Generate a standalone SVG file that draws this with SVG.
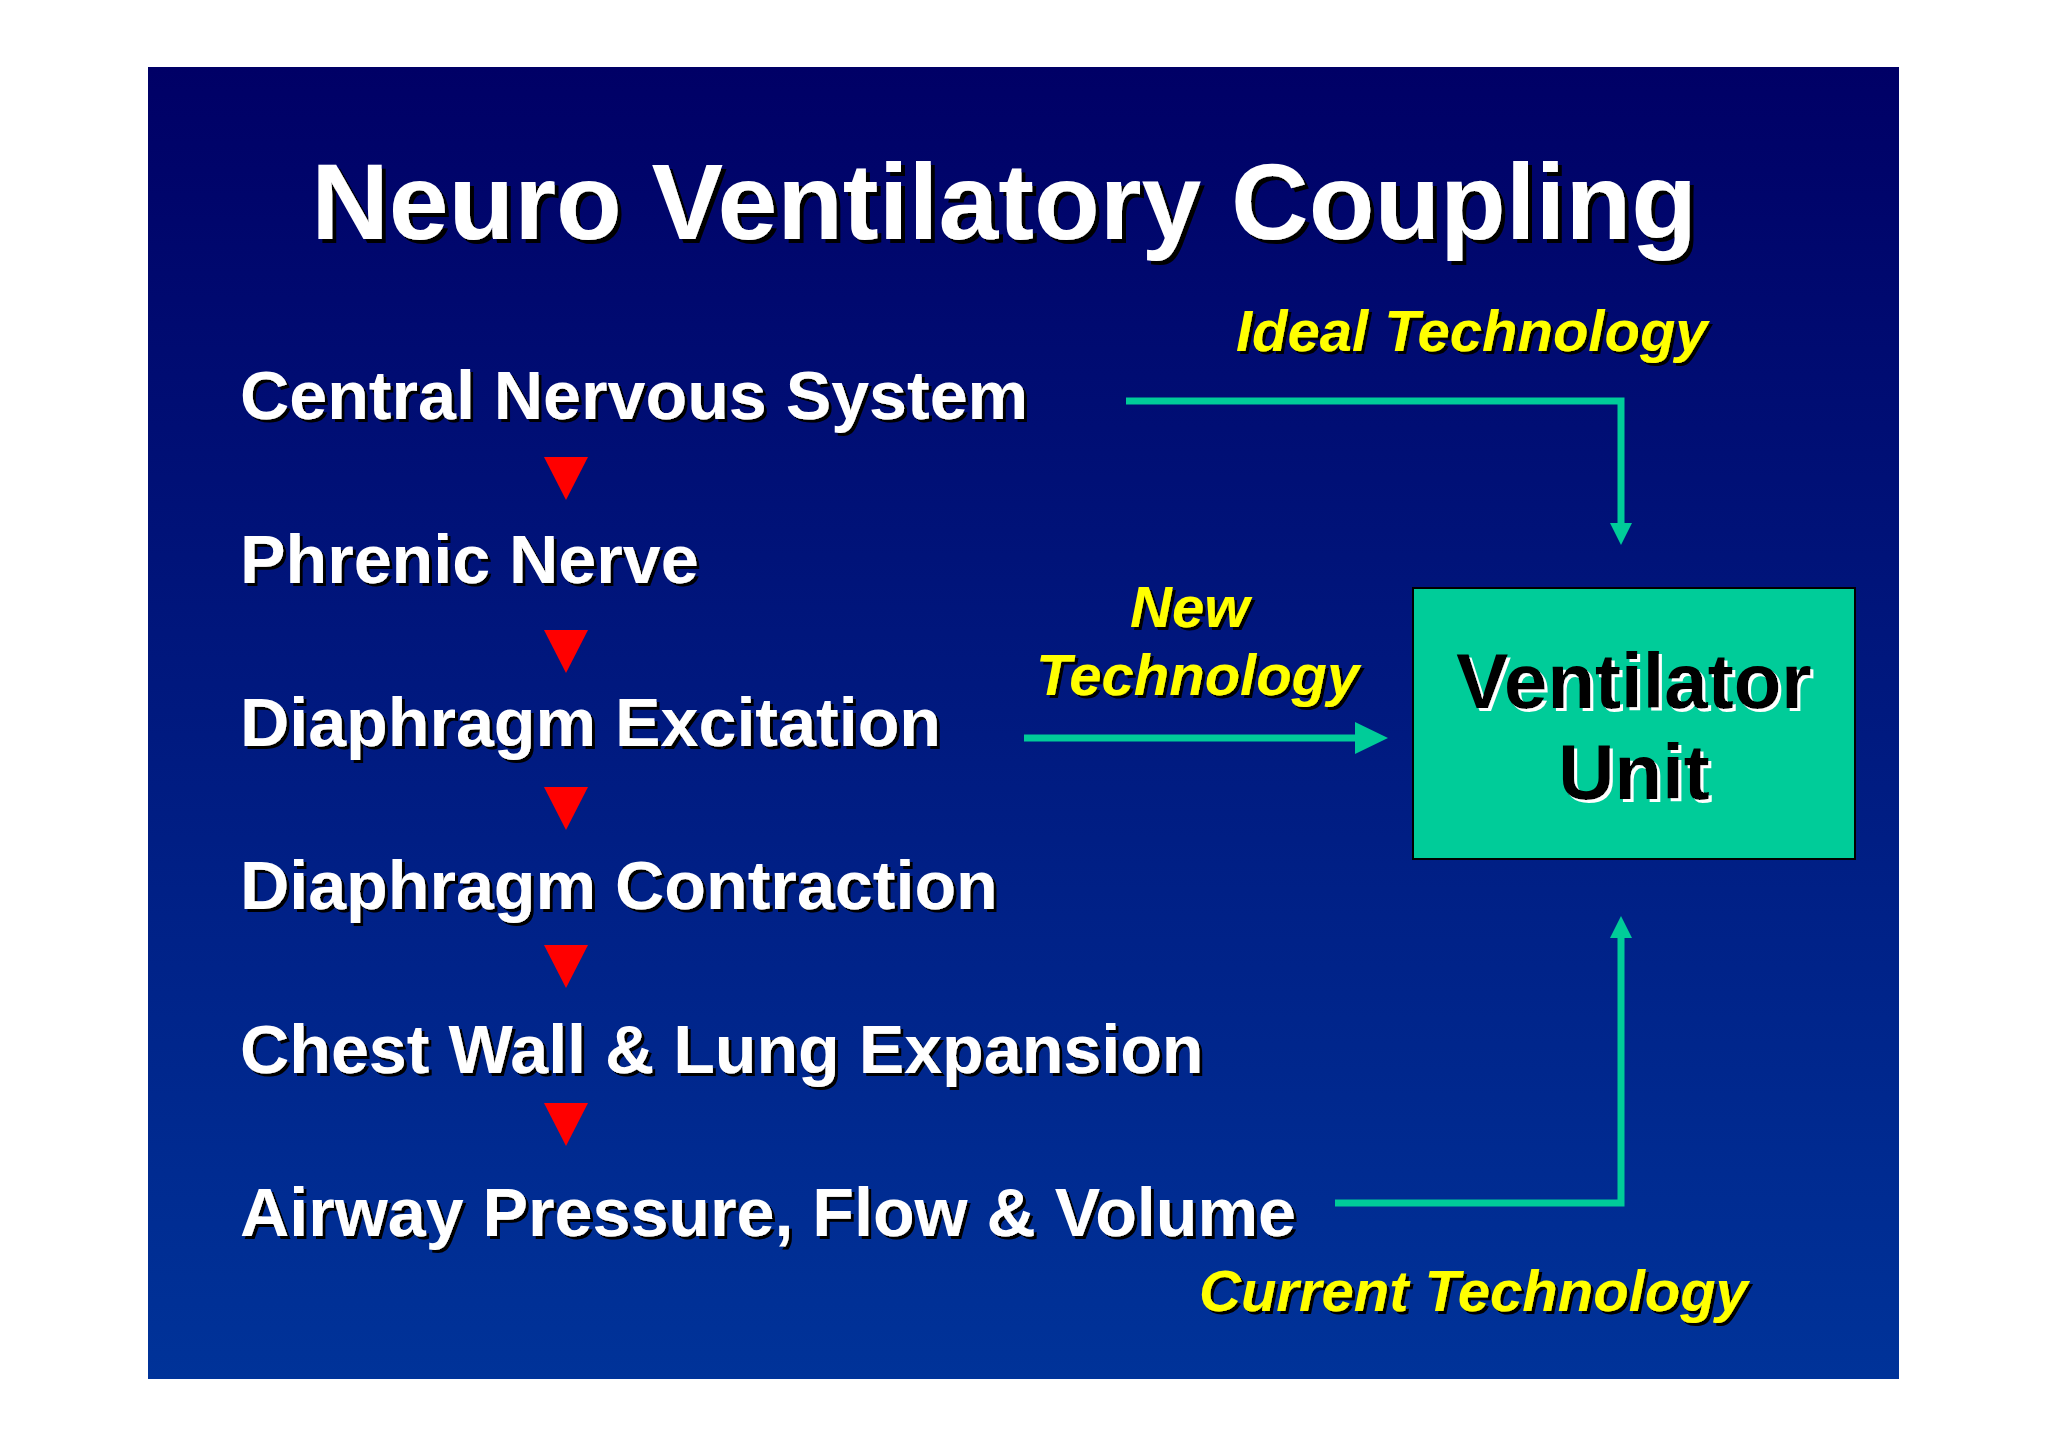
<svg xmlns="http://www.w3.org/2000/svg" width="2048" height="1447" viewBox="0 0 2048 1447">
<defs>
<linearGradient id="bg" x1="0" y1="0" x2="0" y2="1">
<stop offset="0" stop-color="#000066"/>
<stop offset="1" stop-color="#003399"/>
</linearGradient>
<filter id="shK" x="-5%" y="-20%" width="115%" height="150%">
<feDropShadow dx="3" dy="3" stdDeviation="0" flood-color="#000000" flood-opacity="1"/>
</filter>
<filter id="shT" x="-5%" y="-20%" width="115%" height="150%">
<feDropShadow dx="4" dy="4" stdDeviation="0" flood-color="#000000" flood-opacity="1"/>
</filter>
<filter id="shW" x="-5%" y="-20%" width="115%" height="150%">
<feDropShadow dx="3" dy="3" stdDeviation="0" flood-color="#ffffff" flood-opacity="1"/>
</filter>
<marker id="ahS" viewBox="0 0 22 22" markerWidth="22" markerHeight="22" refX="0" refY="11" orient="auto" markerUnits="userSpaceOnUse">
<path d="M0,0 L22,11 L0,22 z" fill="#00CC99"/>
</marker>
<marker id="ahL" viewBox="0 0 33 32" markerWidth="33" markerHeight="32" refX="0" refY="16" orient="auto" markerUnits="userSpaceOnUse">
<path d="M0,0 L33,16 L0,32 z" fill="#00CC99"/>
</marker>
<style>
.t{font-family:"Liberation Sans",Arial,Helvetica,sans-serif;font-weight:bold}
.title{font-size:107.5px;fill:#ffffff}
.item{font-size:68.2px;fill:#ffffff}
.lbl{font-size:58px;font-style:italic;fill:#ffff00}
.vu{font-size:78px;fill:#000000}
.conn{fill:none;stroke:#00CC99;stroke-width:7;stroke-linejoin:miter;stroke-linecap:butt}
.tri{fill:#ff0000}
</style>
</defs>
<rect x="0" y="0" width="2048" height="1447" fill="#ffffff"/>
<rect x="148" y="67" width="1751" height="1312" fill="url(#bg)"/>

<g id="title">
<text class="t title" x="1004" y="239" text-anchor="middle" filter="url(#shT)">Neuro Ventilatory Coupling</text>
</g>

<g id="node-cns"><text class="t item" x="240" y="419" filter="url(#shK)">Central Nervous System</text></g>
<g id="node-phrenic"><text class="t item" x="240" y="583" filter="url(#shK)">Phrenic Nerve</text></g>
<g id="node-excitation"><text class="t item" x="240" y="746" filter="url(#shK)">Diaphragm Excitation</text></g>
<g id="node-contraction"><text class="t item" x="240" y="909" filter="url(#shK)">Diaphragm Contraction</text></g>
<g id="node-expansion"><text class="t item" x="240" y="1073" filter="url(#shK)">Chest Wall &amp; Lung Expansion</text></g>
<g id="node-airway"><text class="t item" x="240" y="1236" filter="url(#shK)">Airway Pressure, Flow &amp; Volume</text></g>

<g id="node-ventilator">
<rect x="1413" y="588" width="442" height="271" fill="#00CC99" stroke="#000000" stroke-width="2"/>
<text class="t vu" x="1634" y="708" text-anchor="middle" filter="url(#shW)">Ventilator</text>
<text class="t vu" x="1634" y="799" text-anchor="middle" filter="url(#shW)">Unit</text>
</g>

<g id="label-ideal"><text class="t lbl" x="1236" y="351" filter="url(#shK)">Ideal Technology</text></g>
<g id="label-new">
<text class="t lbl" x="1130" y="627" filter="url(#shK)">New</text>
<text class="t lbl" x="1036" y="695" filter="url(#shK)">Technology</text>
</g>
<g id="label-current"><text class="t lbl" x="1199" y="1311" filter="url(#shK)">Current Technology</text></g>

<g id="connectors">
<polygon class="tri" points="544,457 588,457 566,500"/>
<polygon class="tri" points="544,630 588,630 566,673"/>
<polygon class="tri" points="544,787 588,787 566,830"/>
<polygon class="tri" points="544,945 588,945 566,988"/>
<polygon class="tri" points="544,1103 588,1103 566,1146"/>
<path class="conn" d="M1126,401 H1621 V523" marker-end="url(#ahS)"/>
<path class="conn" d="M1024,738 H1355" marker-end="url(#ahL)"/>
<path class="conn" d="M1335,1203 H1621 V938" marker-end="url(#ahS)"/>
</g>
</svg>
